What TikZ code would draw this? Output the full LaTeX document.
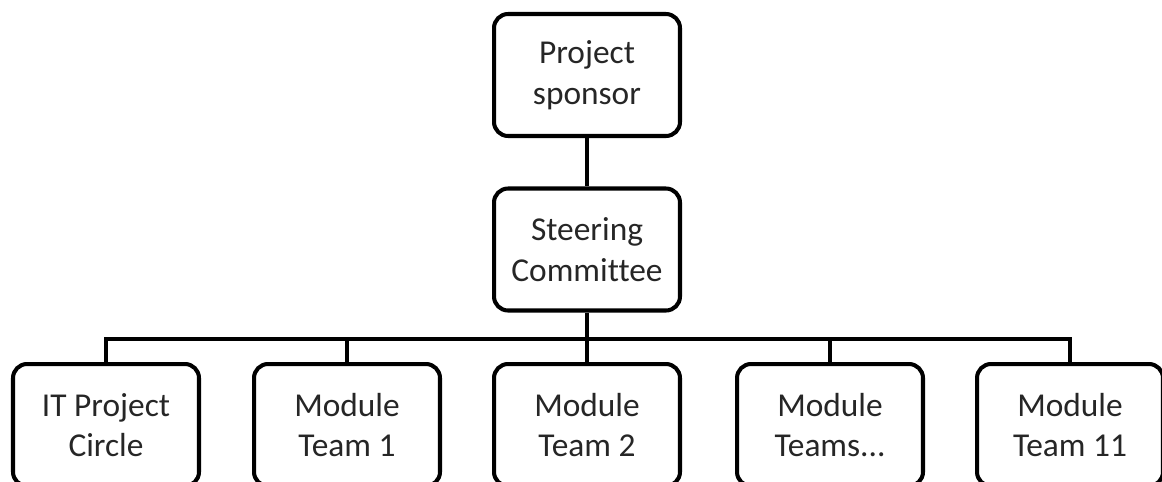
\documentclass[tikz,border=0pt]{standalone}
\usepackage{fontspec}
\setmainfont[Ligatures=NoCommon]{Carlito}
\usetikzlibrary{positioning}

\tikzset{
    orgbox/.style={draw, line width=2.3pt, rounded corners=0.28cm, align=center,
        minimum width=3.72cm, minimum height=2.44cm, inner sep=0pt,
        font=\fontsize{19}{23}\selectfont, text=black!85},
    orgline/.style={line width=2.1pt}
}

\begin{document}
\begin{tikzpicture}[x=0.02cm, y=-0.02cm]
                \useasboundingbox (0,0) rectangle (1162,481);
                \clip (0,0) rectangle (1162,481);
                \node [orgbox] (sponsor) at (587,75) {Project\\sponsor};
                \node [orgbox] (steer) at (587,249.5) {Steering\\Committee};
                \coordinate (bus) at (587,339);
                \node [orgbox] (itc) at (106,425) {IT Project\\Circle};
                \node [orgbox] (mt1) at (347,425) {Module\\Team 1};
                \node [orgbox] (mt2) at (587,425) {Module\\Team 2};
                \node [orgbox] (mts) at (830,425) {Module\\Teams...};
                \node [orgbox] (mt11) at (1070,425) {Module\\Team 11};
                \draw [orgline] (sponsor) -- (steer);
                \draw [orgline] (steer) -- (bus);
                \foreach \t in {itc, mt1, mt2, mts, mt11}{
                    \draw [orgline] (bus) -| (\t.north);
                }
            \end{tikzpicture}
\end{document}
